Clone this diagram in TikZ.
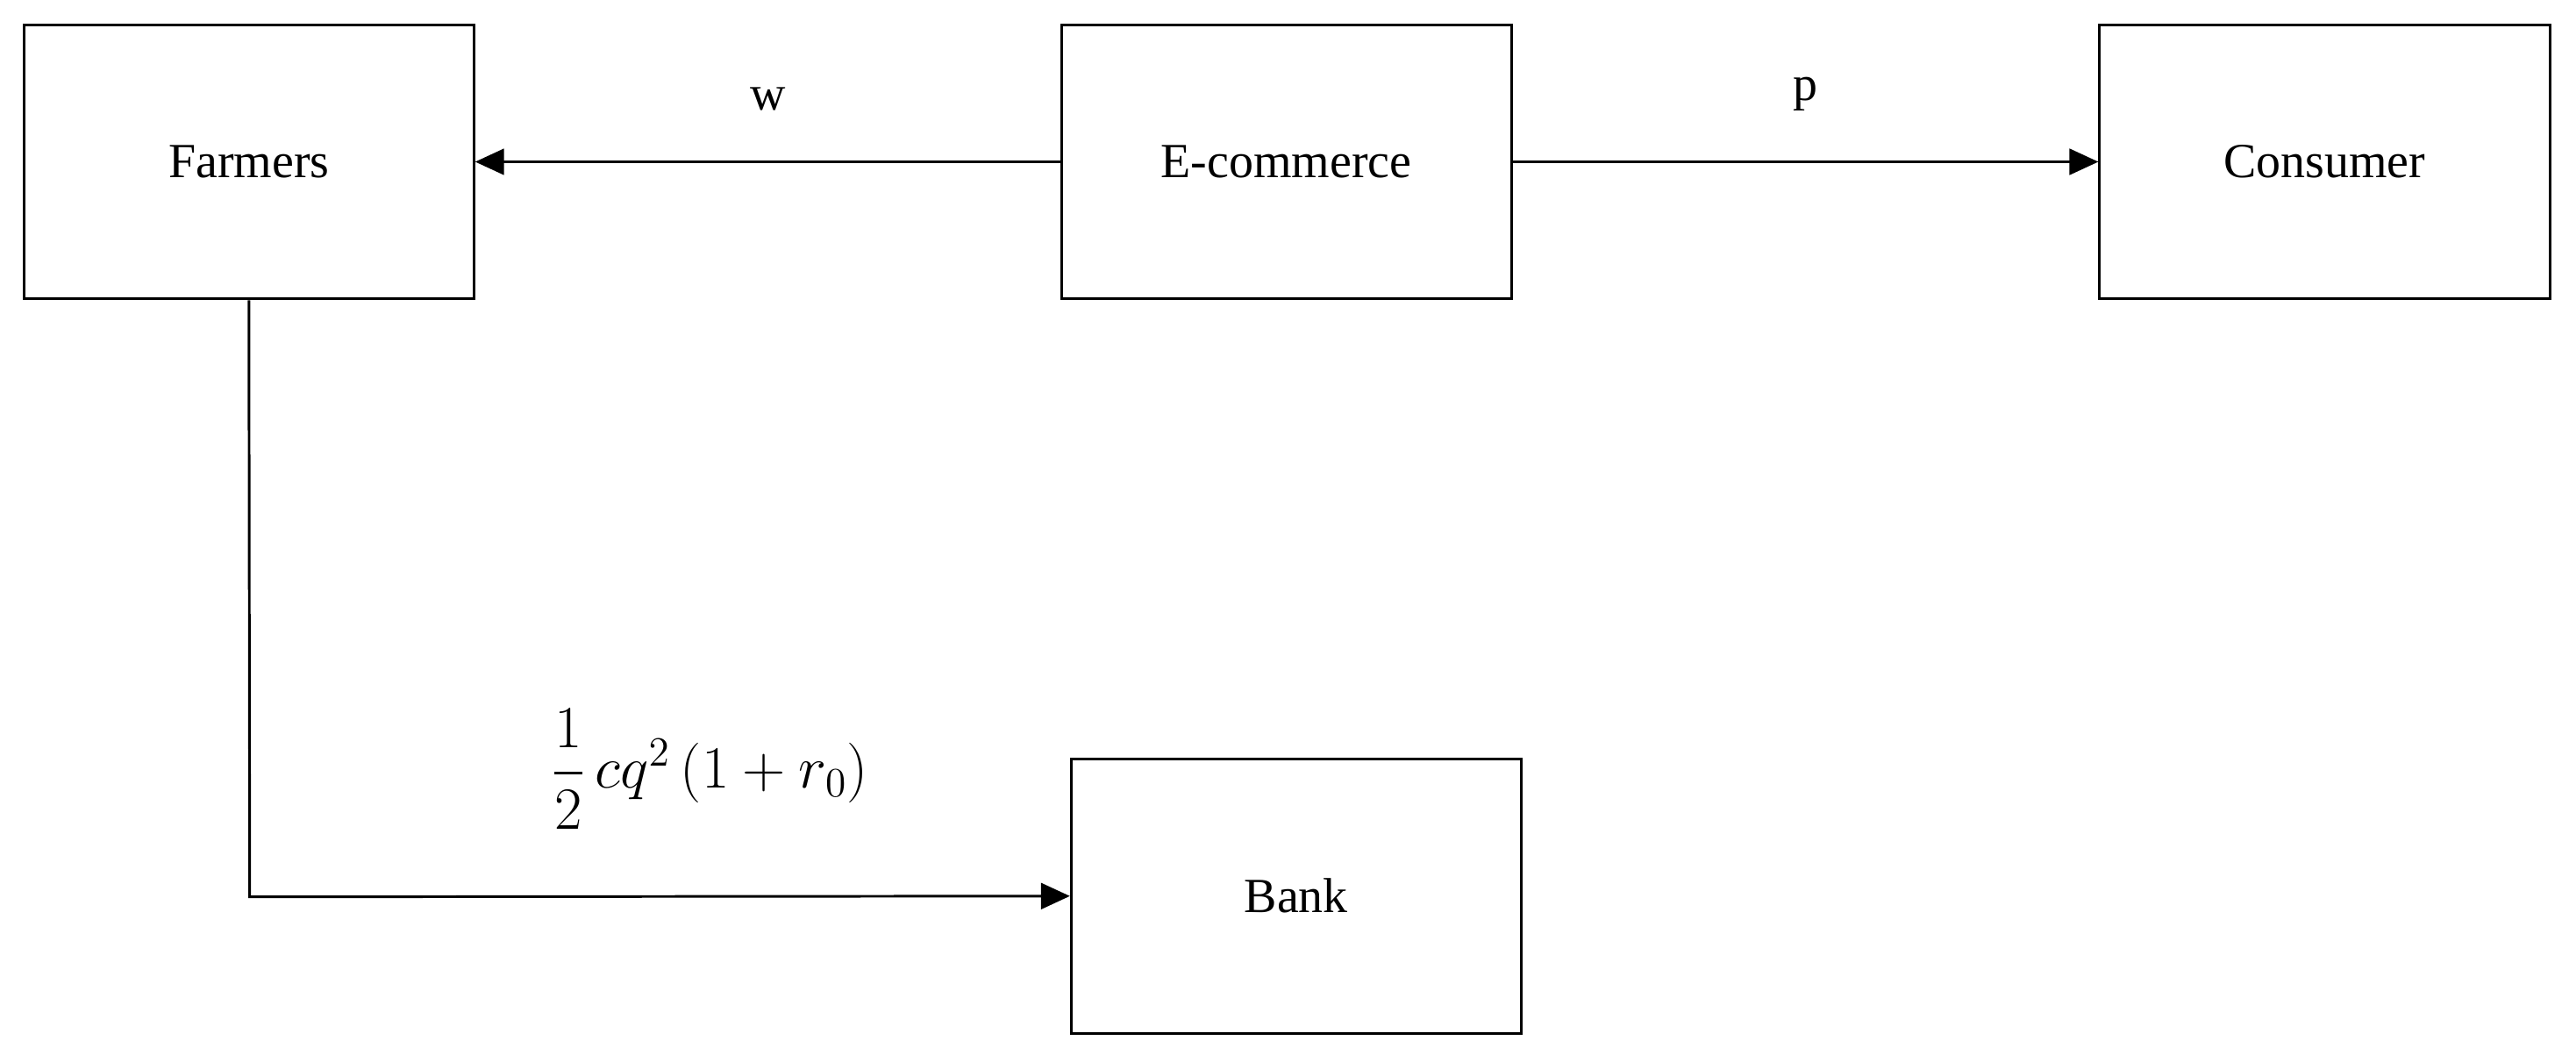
\documentclass[tikz,border=0pt]{standalone}
\usepackage{amsmath}
\usepackage{fontspec}
\setmainfont{Liberation Serif}
\usetikzlibrary{arrows.meta}
\begin{document}
\begin{tikzpicture}[x=0.02cm,y=-0.02cm,
  box/.style={draw,line width=0.9pt,minimum width=5.48cm,minimum height=3.34cm,inner sep=0pt,font=\fontsize{17}{20}\selectfont},
  arr/.style={line width=0.9pt,-{Triangle[length=10pt,width=9pt]}},
  lab/.style={font=\fontsize{17}{20}\selectfont}]
\useasboundingbox (0,0) rectangle (1568,642);
\node[box] (f) at (151.5,98.5) {Farmers};
\node[box] (e) at (783,98.5) {E-commerce};
\node[box] (c) at (1415,98.5) {Consumer};
\node[box] (b) at (789,545.5) {Bank};
\draw[arr] (e) -- node[lab,above=14pt]{w} (f);
\draw[arr] (e) -- node[lab,above=14pt]{p} (c);
\coordinate (k) at (152,546);
\draw[arr] (f.south) -- (k) -- (b.west);
\node[lab,font=\fontsize{20}{24}\selectfont] (m) at (432,468) {$\dfrac{1}{2}\,cq^{2}\left(1+r_{0}\right)$};
\end{tikzpicture}
\end{document}
